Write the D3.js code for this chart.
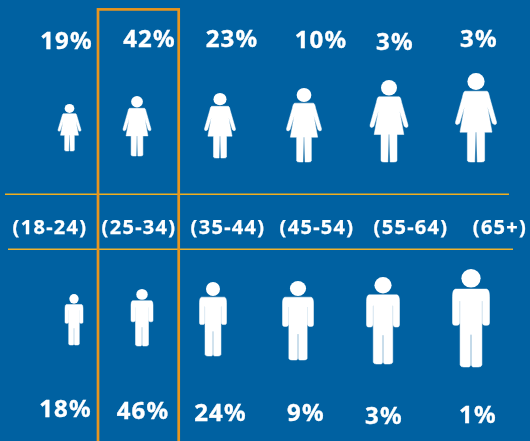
<!DOCTYPE html>
<html><head><meta charset="utf-8">
<script src="https://cdn.jsdelivr.net/npm/d3@7/dist/d3.min.js"></script>
<style>html,body{margin:0;padding:0;background:#0061a1}svg{display:block}</style>
</head><body><svg id="c" width="530" height="441"></svg>
<script>
// Data
const categories = ["(18-24)","(25-34)","(35-44)","(45-54)","(55-64)","(65+)"];
const femaleValues = [19,42,23,10,3,3];
const maleValues = [18,46,24,9,3,1];

// Layout (ordinal range by age band)
const keys = categories;
const ord = r => d3.scaleOrdinal().domain(keys).range(r);
const labelX = ord([50,139,228,317,411,500]);
const fX = ord([69.5,137,220,304,389,476]);
const fTop = ord([104,96,93,88,80,73]);
const fBot = ord([151,156,158,162,162,162]);
const fW = ord([23,28,31,35,38,41]);
const mX = ord([74,142,213,298,383,471]);
const mTop = ord([294,289,282,281,277,269]);
const mBot = ord([345,346,356,360,364,367]);
const mW = ord([18,22,27,31,33,37]);
const fTxtX = ord([66.5,149.5,232,321,395,479]);
const fTxtY = ord([48.5,46.5,46.5,48,49.5,47]);
const mTxtX = ord([65.5,143,220.5,306,384,478]);
const mTxtY = ord([416.5,419,421,421,424,423]);

const svg = d3.select("#c");
const defs = svg.append("defs");
defs.append("filter").attr("id","soft").attr("x","-20%").attr("y","-20%").attr("width","140%").attr("height","140%")
  .append("feGaussianBlur").attr("stdDeviation",0.7);
defs.append("filter").attr("id","softText").attr("x","-10%").attr("y","-20%").attr("width","120%").attr("height","140%")
  .append("feGaussianBlur").attr("stdDeviation",0.25);

svg.append("rect").attr("width",530).attr("height",441).attr("fill","#0061a1");

const femaleShape = "M-.27,.205 L.27,.205 Q.31,.21 .33,.27 L.5,.55 Q.51,.58 .45,.58 L.4,.565 L.28,.38 L.39,.665 L.21,.665 L.21,.985 Q.2,1 .13,1 L.03,1 L.012,.665 L-.012,.665 L-.03,1 L-.13,1 Q-.2,1 -.21,.985 L-.21,.665 L-.39,.665 L-.28,.38 L-.4,.565 L-.45,.58 Q-.51,.58 -.5,.55 L-.33,.27 Q-.31,.21 -.27,.205 Z";
const maleShape = "M-.42,.205 L.42,.205 Q.5,.21 .5,.28 L.5,.55 Q.5,.575 .44,.575 L.37,.575 Q.32,.575 .305,.55 L.305,.33 L.295,.33 L.295,.98 Q.28,1 .2,1 L.06,1 Q.02,1 .012,.98 L.012,.67 L-.012,.67 L-.012,.98 Q-.02,1 -.06,1 L-.2,1 Q-.28,1 -.295,.98 L-.295,.33 L-.305,.33 L-.305,.55 Q-.32,.575 -.37,.575 L-.44,.575 Q-.5,.575 -.5,.55 L-.5,.28 Q-.5,.21 -.42,.205 Z";

function figures(cls, x, top, bot, w, shape, headRx) {
  const g = svg.append("g").attr("filter","url(#soft)").selectAll("g."+cls).data(keys).join("g").attr("class",cls)
    .attr("transform", d => `translate(${x(d)},${top(d)}) scale(${w(d)},${bot(d)-top(d)})`);
  g.append("path").attr("d",shape).attr("fill","#fff")
    .attr("stroke","#fff").attr("stroke-width",.5).attr("vector-effect","non-scaling-stroke");
  g.append("ellipse").attr("cx",0).attr("cy",.095).attr("rx",headRx).attr("ry",.095).attr("fill","#fff");
}
figures("f",fX,fTop,fBot,fW,femaleShape,.21);
figures("m",mX,mTop,mBot,mW,maleShape,.26);

// Rules
svg.append("line").attr("x1",5).attr("x2",509).attr("y1",194.3).attr("y2",194.3).attr("stroke","#f0ae1e").attr("stroke-width",1.5);
svg.append("line").attr("x1",8).attr("x2",513).attr("y1",249.2).attr("y2",249.2).attr("stroke","#eeb22e").attr("stroke-width",1.5);
svg.append("rect").attr("x",98).attr("y",9.4).attr("width",80.7).attr("height",440).attr("fill","none").attr("stroke","#e8951f").attr("stroke-width",2.7);

const font = "'Noto Sans',sans-serif";
const textLayer = svg.append("g").attr("filter","url(#softText)");
function texts(vals, x, y) {
  textLayer.append("g").selectAll("text").data(keys).join("text")
    .attr("x",x).attr("y",y).attr("text-anchor","middle")
    .attr("font-family",font).attr("font-weight",700).attr("font-size",24).attr("fill","#fff")
    .attr("stroke","#fff").attr("stroke-width",.35)
    .attr("letter-spacing",1.2)
    .text((d,i)=>vals[i]+"%");
}
texts(femaleValues,fTxtX,fTxtY);
texts(maleValues,mTxtX,mTxtY);
textLayer.append("g").selectAll("text").data(keys).join("text")
  .attr("x",labelX).attr("y",234).attr("text-anchor","middle")
  .attr("font-family",font).attr("font-weight",700).attr("font-size",20).attr("fill","#fff")
  .attr("stroke","#fff").attr("stroke-width",.25)
  .attr("letter-spacing",1.3)
  .text(d=>d);
</script></body></html>
